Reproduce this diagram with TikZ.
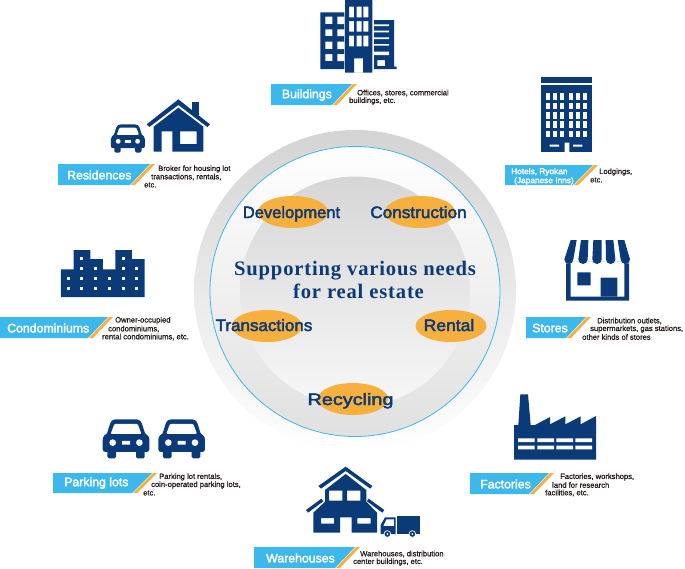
\documentclass[tikz,border=0pt]{standalone}
\usepackage{fontspec}
\setmainfont{Liberation Sans}
\newfontfamily\lab[FakeBold=2.5]{Liberation Sans}
\newfontfamily\labn[FakeBold=0.8]{Liberation Sans}
\newfontfamily\ttl[LetterSpace=4]{Liberation Serif Bold}
\definecolor{navy}{HTML}{0B3A78}
\definecolor{sky}{HTML}{3DB8EC}
\definecolor{org}{HTML}{F7AF3E}
\definecolor{ink}{HTML}{231815}
\tikzset{
 icon/.style={fill=navy,even odd rule},
 hole/.style={fill=white},
 bubble/.style={ellipse,fill=org,inner sep=0pt},
 verb/.style={text=navy,font=\lab\fontsize{16.5}{18}\selectfont,inner sep=0pt,anchor=base},
 tag/.style={text=white,font=\lab\fontsize{12.3}{14}\selectfont,inner sep=0pt,anchor=west},
 tagsmall/.style={text=white,font=\lab\fontsize{8.3}{9}\selectfont,inner sep=0pt,anchor=west},
 note/.style={text=ink,font=\labn\fontsize{7.6}{8}\selectfont,inner sep=0pt,anchor=west},
 headline/.style={text=navy,font=\ttl\fontsize{20.6}{22}\selectfont,inner sep=0pt,anchor=base}
}
\usetikzlibrary{shapes.geometric}
% left, top, bottom, x of blue top right corner
\newcommand\bann[4]{%
 \fill[sky] (#1,#2)--(#4,#2)--(#4-20,#3)--(#1,#3)--cycle;
 \fill[org] (#4+1,#2)--(#4+5,#2)--(#4-15,#3)--(#4-19,#3)--cycle;}
\newcommand\car[3]{%
 \begin{scope}[shift={(#1,#2)},scale=#3]
 \fill[navy,rounded corners=1.5pt] (14,90) rectangle (40,117) (100,90) rectangle (126,117);
 \fill[navy] (0,62) .. controls (0,50) and (8,46) .. (13,42) -- (22,14) .. controls (25,4) and (32,0) .. (42,0) -- (98,0) .. controls (108,0) and (115,4) .. (118,14) -- (127,42) .. controls (132,46) and (140,50) .. (140,62) -- (140,90) .. controls (140,95) and (136,98) .. (132,98) -- (8,98) .. controls (4,98) and (0,95) .. (0,90) -- cycle;
 \fill[white,rounded corners=1pt] (35,14)--(105,14)--(116,44)--(24,44)--cycle;
 \fill[white] (30,70) circle (10) (110,70) circle (10) (58,65) rectangle (82,76);
 \end{scope}}
\begin{document}
\begin{tikzpicture}[x=1pt,y=-1pt]
\useasboundingbox (0,0) rectangle (685,568);
% discs
\shade[top color=black!17,middle color=black!9,bottom color=white] (355,291) circle (161);
\shade[top color=white,bottom color=black!12,draw=sky,line width=.8pt] (355,291.5) circle (145);
\shade[top color=black!16,middle color=black!7,bottom color=black!3] (355,291.5) circle (115);
% bubbles
\node[bubble,minimum width=70pt,minimum height=32pt] (bd) at (293,212) {};
\node[bubble,minimum width=70pt,minimum height=32pt] (bc) at (420,212) {};
\node[bubble,minimum width=70pt,minimum height=32pt] (bt) at (267,326) {};
\node[bubble,minimum width=71pt,minimum height=32pt] (br) at (451,326) {};
\node[bubble,minimum width=70pt,minimum height=32pt] (bx) at (353,399) {};
\node[verb] (vd) at (291.5,218) {Development};
\node[verb] (vc) at (418.5,218) {\scalebox{1.04}[1]{Construction}};
\node[verb] (vt) at (264,331) {\scalebox{1.03}[1]{Transactions}};
\node[verb] (vr) at (449,331) {\scalebox{1.06}[1]{Rental}};
\node[verb] (vx) at (350.5,405) {\scalebox{1.2}[1]{Recycling}};
\node[headline] (h1) at (355,275) {Supporting various needs};
\node[headline] (h2) at (358.5,298) {for real estate};
% Buildings icon
\begin{scope}[shift={(250,0)},scale=1/3]
\fill[icon] (211,37) rectangle (283,207)
 (226,50) rectangle (247,72) (226,88) rectangle (247,108) (226,125) rectangle (247,147) (226,162) rectangle (247,183);
\fill[hole] (262,50) rectangle (283,72) (262,88) rectangle (283,108) (262,125) rectangle (283,147) (262,162) rectangle (283,183);
\fill[icon] (285,0) rectangle (367,218)
 (297,20) rectangle (312,52) (320,20) rectangle (335,52) (340,20) rectangle (355,52)
 (297,63) rectangle (312,95) (320,63) rectangle (335,95) (340,63) rectangle (355,95)
 (297,107) rectangle (312,139) (320,107) rectangle (335,139) (340,107) rectangle (355,139)
 (312,175) rectangle (339,218);
\fill[icon] (372,60)--(432,60)--(432,200)--(440,200)--(440,207)--(372,207)--cycle
 (382,180) rectangle (405,198);
\fill[hole] (372,73) rectangle (417,78) (372,92) rectangle (417,97) (372,112) rectangle (417,117) (372,132) rectangle (417,137) (372,155) rectangle (417,165);
\end{scope}
% Hotel icon
\begin{scope}[shift={(500,70)},scale=1/3]
\fill[navy] (122,21) rectangle (277,39);
\fill[navy] (122,46) rectangle (277,247);
\foreach \c in {139,159,179,208,228,248}
 \foreach \r in {70,98,126,154,182}
  \fill[hole] (\c,\r) rectangle (\c+12,\r+20);
\fill[hole] (194,218) rectangle (208,247) (149,224) rectangle (177,230) (219,224) rectangle (247,230);
\end{scope}
% Residence icon
\begin{scope}[shift={(50,90)},scale=1/3]
\fill[navy] (427,36) rectangle (447,75);
\fill[navy] (385,28)--(480,103)--(472,111)--(385,45)--(298,111)--(290,103)--cycle;
\fill[icon] (385,53)--(460,110)--(460,185)--(367,185)--(367,124)--(335,124)--(335,185)--(311,185)--(311,110)--cycle
 (390,124) rectangle (440,162);
\end{scope}
\car{110.9}{124.3}{.2429}
% Condominium icon
\begin{scope}[shift={(0,240)},scale=1/3]
\fill[navy] (183,88)--(221,88)--(221,30)--(271,30)--(271,57)--(309,57)--(309,88)--(346,88)--(346,30)--(396,30)--(396,57)--(434,57)--(434,171)--(183,171)--cycle;
\foreach \c/\r in {246/55,371/55,246/86,286/86,371/86,411/86,205/115,246/115,286/115,330/115,371/115,411/115,205/145,246/145,286/145,330/145,371/145,411/145}
 \fill[hole] (\c-4.5,\r-4.5) rectangle (\c+4.5,\r+4.5);
\end{scope}
% Store icon
\begin{scope}[shift={(500,230)},scale=1/3]
\fill[icon] (198,95) rectangle (387,212) (212,95) rectangle (373,200);
\fill[navy] (232,127) rectangle (272,166) (302,143) rectangle (352,200);
\fill[white] (198,95) rectangle (212,100) (373,95) rectangle (387,100);
\begin{scope}[shift={(165,0)}]
\fill[navy] (47,30)--(65,30)--(55,88) arc (0:180:13.5)--cycle;
\fill[navy] (78,30)--(100,30)--(98,88) arc (0:180:14)--cycle;
\fill[navy] (115,30)--(140,30)--(140,88) arc (0:180:14)--cycle;
\fill[navy] (152,30)--(175,30)--(181,88) arc (0:180:14)--cycle;
\fill[navy] (188,30)--(208,30)--(225,88) arc (0:180:14)--cycle;
\end{scope}
\end{scope}
% Factory icon
\begin{scope}[shift={(460,385)},scale=1/3]
\fill[navy] (162,120)--(175,120)--(181,28)--(204,28)--(212,120)--(225,120)--(270,96)--(270,118)--(316,94)--(316,118)--(362,94)--(362,118)--(408,93)--(408,224)--(162,224)--cycle;
\foreach \c in {174,232,289,346}
 \fill[hole] (\c,160) rectangle (\c+50,171) (\c,182) rectangle (\c+50,193);
\end{scope}
% Parking icon
\car{102.7}{419.3}{.3333}
\car{158.3}{419.3}{.3333}
% Warehouse icon
\begin{scope}[shift={(250,460)},scale=1/3]
\fill[navy] (287,20)--(367,78)--(361,86)--(287,33)--(213,86)--(205,78)--cycle;
\fill[navy] (168,150)--(214,116)--(220,124)--(174,158)--cycle;
\fill[navy] (356,116)--(403,150)--(397,158)--(351,124)--cycle;
\fill[icon] (287,42)--(349,90)--(349,125)--(381,158)--(381,218)--(305,218)--(305,172)--(270,172)--(270,218)--(190,218)--(190,158)--(225,125)--(225,90)--cycle
 (237,92) rectangle (277,122) (291,92) rectangle (331,122) (213,174) rectangle (252,191) (322,174) rectangle (362,191);
\fill[navy] (442,167) rectangle (509,222);
\fill[icon] (392,222)--(392,195)--(405,172)--(437,172)--(437,222)--cycle (409,178)--(432,178)--(432,198)--(400,198)--cycle;
\fill[navy,draw=white,line width=.7pt] (412,222) circle (10) (487,222) circle (10);
\fill[white] (412,222) circle (3) (487,222) circle (3);
\end{scope}
% Banners
\bann{271}{84}{105}{352}
\node[tag] (t1) at (281.7,95) {Buildings};
\node[note] (n1a) at (357,93) {Offices, stores, commercial};
\node[note] (n1b) at (349,101) {buildings, etc.};
\bann{505}{165}{185}{593}
\node[tagsmall] (t2a) at (511,172) {Hotels, Ryokan};
\node[tagsmall] (t2b) at (514,181) {(Japanese Inns)};
\node[note] (n2a) at (599,172) {Lodgings,};
\node[note] (n2b) at (590,180) {etc.};
\bann{58}{164}{185}{150}
\node[tag] (t3) at (67,175) {Residences};
\node[note] (n3a) at (158,169) {Broker for housing lot};
\node[note] (n3b) at (151,177) {transactions, rentals,};
\node[note] (n3c) at (144,185) {etc.};
\bann{0}{317}{338}{108}
\node[tag] (t4) at (7,328) {Condominiums};
\node[note] (n4a) at (115,320.5) {Owner-occupied};
\node[note] (n4b) at (108,329) {condominiums,};
\node[note] (n4c) at (102,337) {rental condominiums, etc.};
\bann{526}{317}{338}{586}
\node[tag] (t5) at (532,328) {Stores};
\node[note] (n5a) at (597,321) {Distribution outlets,};
\node[note] (n5b) at (590,329) {supermarkets, gas stations,};
\node[note] (n5c) at (582,337) {other kinds of stores};
\bann{53}{473}{493}{152}
\node[tag] (t6) at (64,483) {Parking lots};
\node[note] (n6a) at (159,477) {Parking lot rentals,};
\node[note] (n6b) at (151,485) {coin-operated parking lots,};
\node[note] (n6c) at (143,493) {etc.};
\bann{470}{473}{494}{549}
\node[tag] (t7) at (480,484) {Factories};
\node[note] (n7a) at (560,477) {Factories, workshops,};
\node[note] (n7b) at (552,485) {land for research};
\node[note] (n7c) at (545,493) {facilities, etc.};
\bann{254}{547}{568}{355}
\node[tag] (t8) at (266,558) {Warehouses};
\node[note] (n8a) at (360,554) {Warehouses, distribution};
\node[note] (n8b) at (353,562) {center buildings, etc.};
\end{tikzpicture}
\end{document}
